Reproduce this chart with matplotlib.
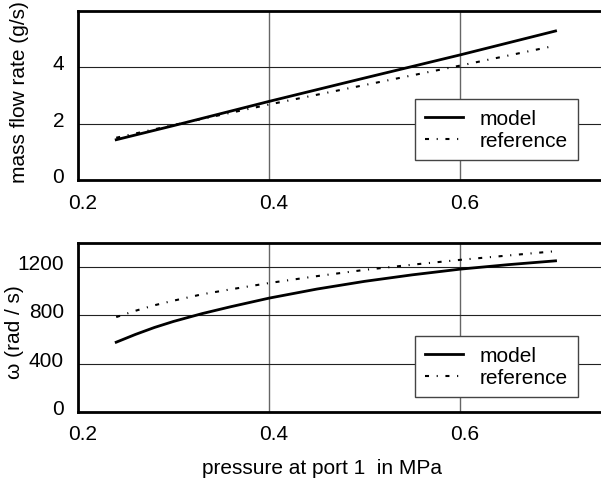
import matplotlib.pyplot as plt
from matplotlib.transforms import ScaledTranslation

plt.rcParams['font.family'] = ['Liberation Sans', 'DejaVu Sans']
plt.rcParams['lines.scale_dashes'] = False

# pressure at port 1 (MPa)
p_top = [0.24, 0.30, 0.40, 0.50, 0.60, 0.70]

# mass flow rate (g/s)
mdot_model = [1.43, 1.93, 2.79, 3.62, 4.44, 5.29]
mdot_ref = [1.50, 1.95, 2.68, 3.37, 4.06, 4.77]

p_bot = [0.24, 0.26, 0.28, 0.30, 0.33, 0.36, 0.40, 0.45, 0.50, 0.55, 0.60, 0.65, 0.70]

# omega (rad/s)
w_model = [578, 642, 700, 750, 815, 872, 943, 1018, 1082, 1136, 1183, 1220, 1252]
w_ref = [786, 838, 884, 922, 975, 1016, 1068, 1125, 1177, 1220, 1260, 1296, 1332]

xticks = [0.2, 0.4, 0.6]
dashdot = (2.9, 5.5, 0.8, 5.5)

fig = plt.figure(figsize=(6.01, 4.81), dpi=100)
ax1 = fig.add_axes([0.1298, 0.6237, 0.8702, 0.3514])
ax2 = fig.add_axes([0.1298, 0.1414, 0.8702, 0.3514])


def style(ax, yticks, ylim):
    ax.set_xlim(0.2, 0.7476)
    ax.set_ylim(*ylim)
    ax.set_xticks(xticks)
    ax.set_yticks(yticks)
    ax.tick_params(length=0, labelsize=15)
    ax.tick_params(axis='x', pad=9)
    ax.tick_params(axis='y', pad=10)
    ax.yaxis.grid(True, color='#222222', lw=0.8)
    ax.xaxis.grid(True, color='#666666', lw=1.0)
    ax.set_axisbelow(True)
    for s in ['left', 'bottom', 'top']:
        ax.spines[s].set_linewidth(2)
    ax.spines['right'].set_visible(False)
    # labels sit a little right / up of their grid lines in the original
    for lab in ax.get_xticklabels():
        lab.set_transform(lab.get_transform() + ScaledTranslation(0.045, 0, fig.dpi_scale_trans))
    for lab in ax.get_yticklabels():
        lab.set_transform(lab.get_transform() + ScaledTranslation(0, 0.055, fig.dpi_scale_trans))


def add_legend(ax, y):
    ax.legend(loc='upper left', bbox_to_anchor=(0.644, y), borderaxespad=0,
              fontsize=15, fancybox=False, edgecolor='#444444', framealpha=1,
              handlelength=1.8, labelspacing=0.12, borderpad=0.5,
              handletextpad=0.8)


ax1.plot(p_top, mdot_model, color='black', lw=2, label='model')
ax1.plot(p_top, mdot_ref, color='black', lw=1.5, dashes=dashdot, label='reference')
style(ax1, [0, 2, 4], (0, 6))
add_legend(ax1, 0.479)

ax2.plot(p_bot, w_model, color='black', lw=2, label='model')
ax2.plot(p_bot, w_ref, color='black', lw=1.5, dashes=dashdot, label='reference')
style(ax2, [0, 400, 800, 1200], (0, 1400))
add_legend(ax2, 0.45)

fig.text(19.5 / 601, 1 - 92 / 481, 'mass flow rate (g/s)', fontsize=15,
         rotation=90, ha='center', va='center')
fig.text(15 / 601, 1 - 332 / 481, '\u03c9 (rad / s)', fontsize=15,
         rotation=90, ha='center', va='center')
fig.text(321.5 / 601, 1 - 474 / 481, 'pressure at port 1  in MPa', fontsize=15,
         ha='center', va='baseline')

fig.savefig('out.png', dpi=100)
